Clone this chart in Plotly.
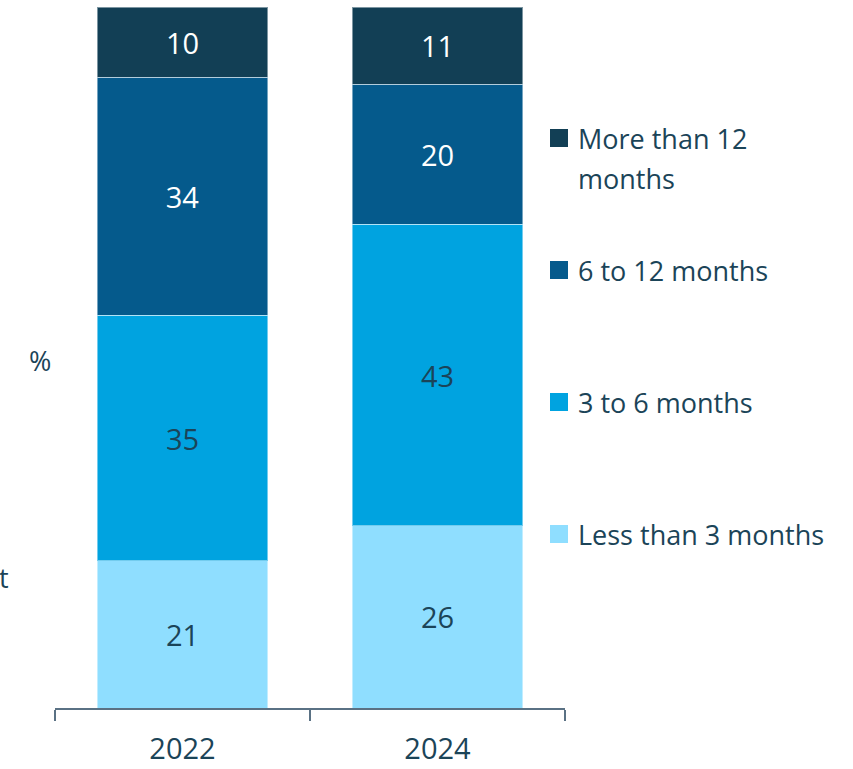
import plotly.graph_objects as go

years = ["2022", "2024"]
series_names = ["Less than 3 months", "3 to 6 months", "6 to 12 months", "More than 12 months"]
legend_lines = [["Less than 3 months"], ["3 to 6 months"], ["6 to 12 months"], ["More than 12", "months"]]
less_3 = [21, 26]
m3_6 = [35, 43]
m6_12 = [34, 20]
more_12 = [10, 11]
series_values = [less_3, m3_6, m6_12, more_12]

colors = ["#8fdeff", "#00a3e0", "#055a8c", "#123f55"]
text_colors = ["#1b4458", "#1b4458", "#ffffff", "#ffffff"]
dark = "#1b4458"
font_family = "Open Sans"

fig = go.Figure()
for name, vals, col, tcol in zip(series_names, series_values, colors, text_colors):
    fig.add_trace(go.Bar(
        x=years, y=vals, name=name,
        marker=dict(color=col, line=dict(color="rgba(255,255,255,0.45)", width=1)),
        text=[str(v) for v in vals], textposition="inside",
        insidetextanchor="middle",
        textfont=dict(color=tcol, size=29, family=font_family),
        showlegend=False,
    ))

W, H = 853, 769
L, R, T, B = 55, 288, 7, 61
PW, PH = W - L - R, H - T - B


def fx(px):
    # page x pixel -> paper fraction
    return (px - L) / PW


def fy(py):
    # page y pixel -> paper fraction
    return (H - B - py) / PH


shapes = []
annotations = []
# hand-placed legend: square swatch plus label lines, top entry first
legend_rows = [(138, 3), (270, 2), (402, 1), (534, 0)]
for yc, idx in legend_rows:
    shapes.append(dict(type="rect", xref="paper", yref="paper",
                       x0=fx(550), x1=fx(568), y0=fy(yc + 9), y1=fy(yc - 9),
                       fillcolor=colors[idx], line=dict(width=0)))
    for k, line in enumerate(legend_lines[idx]):
        annotations.append(dict(xref="paper", yref="paper",
                                x=fx(576), y=fy(yc + 40 * k),
                                xanchor="left", yanchor="middle", align="left",
                                text=line, showarrow=False,
                                font=dict(size=27, color=dark, family=font_family)))

# fragments of the left-hand side text
annotations.append(dict(xref="paper", yref="paper", x=fx(53), y=fy(361),
                        xanchor="right", yanchor="middle", text="%", showarrow=False,
                        font=dict(size=27, color=dark, family=font_family)))
annotations.append(dict(xref="paper", yref="paper", x=fx(11), y=fy(577),
                        xanchor="right", yanchor="middle", text="t", showarrow=False,
                        font=dict(size=27, color=dark, family=font_family)))

fig.update_layout(
    barmode="stack",
    bargap=0.33,
    width=W, height=H,
    margin=dict(l=L, r=R, t=T, b=B, autoexpand=False),
    plot_bgcolor="white", paper_bgcolor="white",
    font=dict(family=font_family, color=dark),
    shapes=shapes,
    annotations=annotations,
    xaxis=dict(
        showline=True, linecolor="#5a7184", linewidth=1.5,
        ticks="outside", tickson="boundaries", ticklen=11, tickwidth=1.5, tickcolor="#5a7184",
        tickfont=dict(size=29, color=dark, family=font_family),
        ticklabelstandoff=14, automargin=False,
        showgrid=False,
    ),
    yaxis=dict(range=[0, 100], visible=False, showgrid=False, automargin=False),
)

fig.write_html("out.html")
